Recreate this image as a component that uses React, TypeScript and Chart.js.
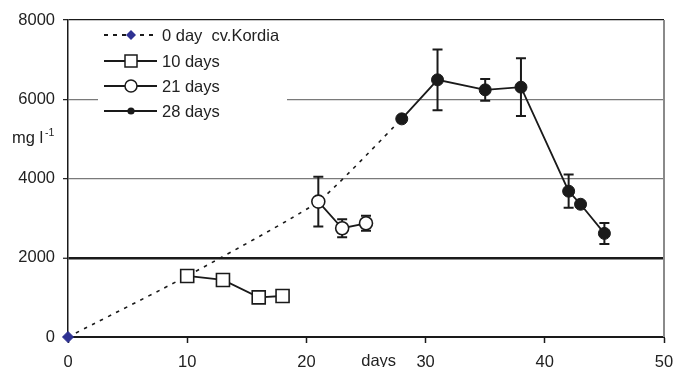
import { useEffect, useRef } from "react";
import { Chart, registerables } from "chart.js";

Chart.register(...registerables);

const FONT = '"Liberation Sans", Arial, Helvetica, sans-serif';
const INK = "#1a1a1a";
const DIAMOND = "#2e3192";

// Trend ("0 day cv.Kordia") through the start of each series
const trendDays = [0, 10, 21, 28];
const trendValues = [0, 1540, 3417, 5505];

// 10 days
const days10 = [10, 13, 16, 18];
const values10 = [1540, 1440, 1000, 1035];

// 21 days
const days21 = [21, 23, 25];
const values21 = [3417, 2745, 2870];
const err21 = [630, 225, 190];

// 28 days
const days28 = [28, 31, 35, 38, 42, 43, 45];
const values28 = [5505, 6490, 6237, 6305, 3680, 3350, 2615];
const err28 = [0, 765, 275, 730, 420, 0, 265];

const yTicks = [0, 2000, 4000, 6000, 8000];
const xTicks = [0, 10, 20, 30, 40, 50];

const legendLabels = ["0 day  cv.Kordia", "10 days", "21 days", "28 days"];

const toXY = (xs: number[], ys: number[]) => xs.map((x, i) => ({ x, y: ys[i] }));

const errorSets = [
  { days: days21, values: values21, errs: err21 },
  { days: days28, values: values28, errs: err28 },
];

const errorBarsPlugin = {
  id: "errorBars",
  beforeDatasetsDraw(chart: any) {
    const { ctx, scales } = chart;
    const x = scales.x;
    const y = scales.y;
    ctx.save();
    ctx.strokeStyle = INK;
    ctx.lineWidth = 2;
    errorSets.forEach(({ days, values, errs }) => {
      days.forEach((d, i) => {
        const e = errs[i];
        if (!e) return;
        const px = x.getPixelForValue(d);
        const top = y.getPixelForValue(values[i] + e);
        const bot = y.getPixelForValue(values[i] - e);
        ctx.beginPath();
        ctx.moveTo(px, top);
        ctx.lineTo(px, bot);
        ctx.moveTo(px - 5, top);
        ctx.lineTo(px + 5, top);
        ctx.moveTo(px - 5, bot);
        ctx.lineTo(px + 5, bot);
        ctx.stroke();
      });
    });
    ctx.restore();
  },
};

const decorPlugin = {
  id: "decor",
  afterDraw(chart: any) {
    const { ctx, chartArea, scales } = chart;
    const { left, top, right, bottom } = chartArea;
    ctx.save();

    // right border
    ctx.strokeStyle = "#8a8a8a";
    ctx.lineWidth = 2;
    ctx.beginPath();
    ctx.moveTo(right, top);
    ctx.lineTo(right, bottom);
    ctx.stroke();

    // legend box
    const lx = left + 30;
    const ly = top + 2;
    ctx.fillStyle = "#ffffff";
    ctx.fillRect(lx, ly, 189, 100);

    const rows = [top + 15, top + 41, top + 66, top + 91];
    const sx0 = left + 36;
    const sx1 = left + 89;
    const mx = left + 63;
    const tx = left + 94;
    ctx.font = `16.5px ${FONT}`;
    ctx.textBaseline = "middle";
    ctx.textAlign = "left";
    rows.forEach((ry, i) => {
      ctx.strokeStyle = INK;
      ctx.lineWidth = 1.8;
      ctx.setLineDash(i === 0 ? [4, 5] : []);
      ctx.beginPath();
      ctx.moveTo(sx0, ry);
      ctx.lineTo(sx1, ry);
      ctx.stroke();
      ctx.setLineDash([]);
      ctx.lineWidth = 1.5;
      if (i === 0) {
        ctx.fillStyle = DIAMOND;
        ctx.beginPath();
        ctx.moveTo(mx, ry - 5);
        ctx.lineTo(mx + 5, ry);
        ctx.lineTo(mx, ry + 5);
        ctx.lineTo(mx - 5, ry);
        ctx.closePath();
        ctx.fill();
      } else if (i === 1) {
        ctx.fillStyle = "#fff";
        ctx.fillRect(mx - 6, ry - 6, 12, 12);
        ctx.strokeRect(mx - 6, ry - 6, 12, 12);
      } else if (i === 2) {
        ctx.fillStyle = "#fff";
        ctx.beginPath();
        ctx.arc(mx, ry, 6, 0, Math.PI * 2);
        ctx.fill();
        ctx.stroke();
      } else {
        ctx.fillStyle = INK;
        ctx.beginPath();
        ctx.arc(mx, ry, 3.6, 0, Math.PI * 2);
        ctx.fill();
      }
      ctx.fillStyle = "#222";
      ctx.fillText(legendLabels[i], tx, ry + 1);
    });

    // y-axis unit label
    ctx.fillStyle = "#222";
    ctx.textBaseline = "alphabetic";
    ctx.font = `16.5px ${FONT}`;
    ctx.fillText("mg l", 12, 143);
    ctx.font = `10.5px ${FONT}`;
    ctx.fillText("-1", 45, 136);

    // x-axis title, in the tick label row
    ctx.font = `16.5px ${FONT}`;
    ctx.textBaseline = "top";
    ctx.fillText("days", scales.x.getPixelForValue(24.6), scales.x.top + 16);

    ctx.restore();
  },
};

export default function App() {
  const ref = useRef<HTMLCanvasElement>(null);

  useEffect(() => {
    document.body.style.margin = "0";
    const canvas = ref.current!;
    const chart = new Chart(canvas, {
      type: "line",
      data: {
        datasets: [
          {
            label: legendLabels[3],
            data: toXY(days28, values28),
            borderColor: INK,
            borderWidth: 1.8,
            pointStyle: "circle",
            pointRadius: 6,
            pointBackgroundColor: INK,
            pointBorderColor: INK,
            pointBorderWidth: 1,
            order: 1,
          },
          {
            label: legendLabels[2],
            data: toXY(days21, values21),
            borderColor: INK,
            borderWidth: 1.8,
            pointStyle: "circle",
            pointRadius: 6.5,
            pointBackgroundColor: "#fff",
            pointBorderColor: INK,
            pointBorderWidth: 1.6,
            order: 2,
          },
          {
            label: legendLabels[1],
            data: toXY(days10, values10),
            borderColor: INK,
            borderWidth: 1.8,
            pointStyle: "rect",
            pointRadius: 9.2,
            pointBackgroundColor: "#fff",
            pointBorderColor: INK,
            pointBorderWidth: 1.6,
            order: 3,
          },
          {
            label: legendLabels[0],
            data: toXY(trendDays, trendValues),
            borderColor: INK,
            borderWidth: 1.6,
            borderDash: [3.5, 5.5],
            tension: 0.15,
            pointStyle: "rectRot",
            pointRadius: trendDays.map((_, i) => (i === 0 ? 5.5 : 0)),
            pointBackgroundColor: DIAMOND,
            pointBorderColor: DIAMOND,
            pointBorderWidth: 1,
            order: 10,
          },
        ],
      } as any,
      options: {
        responsive: false,
        animation: false,
        layout: { padding: { top: 20, right: 11, left: 0, bottom: 0 } },
        plugins: {
          legend: { display: false },
          tooltip: { enabled: false },
          title: { display: false },
        },
        clip: false as any,
        scales: {
          x: {
            type: "linear",
            min: 0,
            max: 50,
            afterFit: (s: any) => {
              s.height = 30;
              s.paddingLeft = 0;
              s.paddingRight = 0;
            },
            afterBuildTicks: (s: any) => {
              s.ticks = xTicks.map((v) => ({ value: v }));
            },
            ticks: {
              color: "#222",
              font: { family: FONT, size: 16.5 },
              padding: 10,
              maxRotation: 0,
              callback: (v: any) => String(v),
            },
            grid: {
              drawOnChartArea: false,
              drawTicks: true,
              tickLength: 6,
              tickColor: INK,
              tickWidth: 1.5,
            },
            border: { color: INK, width: 2 },
          },
          y: {
            type: "linear",
            min: 0,
            max: 8000,
            afterFit: (s: any) => {
              s.width = 68;
              s.paddingTop = 0;
              s.paddingBottom = 0;
            },
            afterBuildTicks: (s: any) => {
              s.ticks = yTicks.map((v) => ({ value: v }));
            },
            ticks: {
              color: "#222",
              font: { family: FONT, size: 16.5 },
              padding: 8,
              callback: (v: any) => String(v),
            },
            grid: {
              drawTicks: true,
              tickLength: 5,
              tickColor: INK,
              tickWidth: 1.2,
              color: (c: any) => {
                const v = c.tick?.value;
                if (v === 0) return "rgba(0,0,0,0)";
                if (v === 2000 || v === 8000) return INK;
                return "#7a7a7a";
              },
              lineWidth: (c: any) => {
                const v = c.tick?.value;
                if (v === 2000) return 2.5;
                return 1.3;
              },
            },
            border: { color: INK, width: 1.5 },
          },
        },
      } as any,
      plugins: [errorBarsPlugin, decorPlugin],
    });
    return () => chart.destroy();
  }, []);

  return (
    <div style={{ width: 675, height: 367 }}>
      <canvas ref={ref} width={675} height={367} style={{ display: "block" }} />
    </div>
  );
}
